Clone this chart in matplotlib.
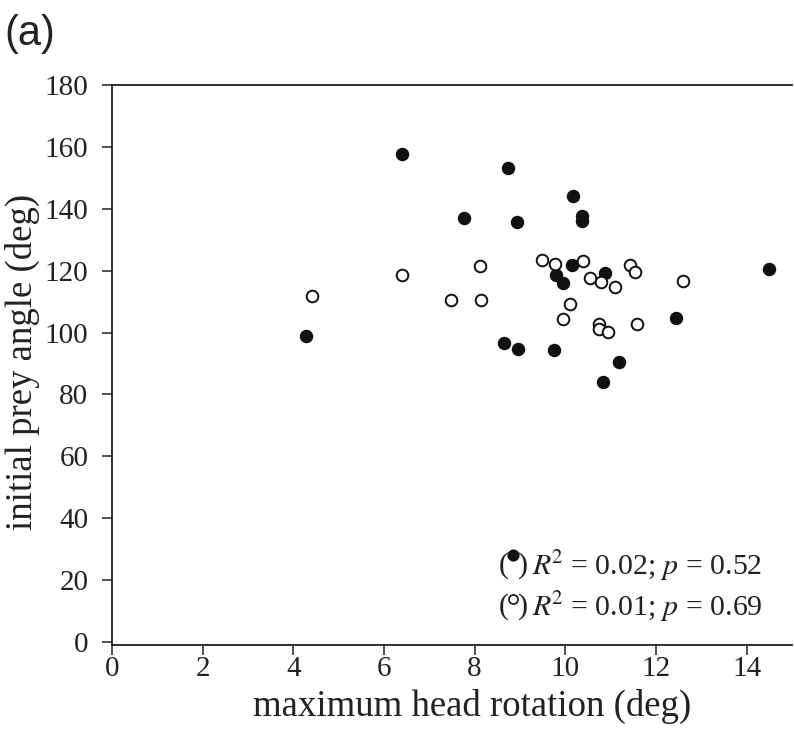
import matplotlib
matplotlib.use("Agg")
import matplotlib.pyplot as plt

plt.rcParams['font.family'] = ['Liberation Serif', 'DejaVu Serif']
plt.rcParams['mathtext.fontset'] = 'stix'

# filled circles
filled_x = [6.40, 8.73, 10.17, 7.77, 8.93, 10.37, 10.37, 10.14, 9.79, 9.95,
            10.88, 4.28, 8.64, 8.96, 9.76, 10.83, 11.18, 12.45, 14.49]
filled_y = [157.6, 153.3, 144.1, 137.1, 135.8, 137.6, 136.0, 121.8, 118.7, 116.1,
            119.2, 98.9, 96.5, 94.7, 94.4, 84.0, 90.4, 104.6, 120.5]
# open circles
open_x = [4.42, 6.40, 8.12, 7.48, 8.13, 9.48, 9.77, 10.39, 10.55, 10.79,
          11.09, 10.10, 9.95, 10.74, 10.74, 10.95, 11.43, 11.54, 12.60, 11.57]
open_y = [111.9, 118.7, 121.6, 110.4, 110.4, 123.5, 122.0, 123.1, 117.7, 116.2,
          114.6, 109.1, 104.4, 102.8, 101.1, 100.1, 121.9, 119.5, 116.5, 102.9]

x_ticks = [0, 2, 4, 6, 8, 10, 12, 14]
y_ticks = [0, 20, 40, 60, 80, 100, 120, 140, 160, 180]
stats_lines = [r"$R^{\!2}$ = 0.02; $p$ = 0.52", r"$R^{\!2}$ = 0.01; $p$ = 0.69"]

fig = plt.figure(figsize=(7.94, 7.30), dpi=100)
ax = fig.add_axes([112/794, 1-645/730, (792-112)/794, (645-85)/730])

ax.scatter(filled_x, filled_y, s=75, facecolor='#111111', edgecolor='#111111',
           linewidths=1.0, zorder=3, clip_on=False)
ax.scatter(open_x, open_y, s=70, facecolor='white', edgecolor='#111111',
           linewidths=1.4, zorder=3, clip_on=False)

ax.set_xlim(0, 15)
ax.set_ylim(-1, 180)
ax.set_xticks(x_ticks)
ax.set_yticks(y_ticks)
ax.tick_params(axis='both', direction='out', length=7, width=1.1, labelsize=21,
               color='#222222', labelcolor='#222222')
ax.tick_params(axis='y', pad=10)
ax.tick_params(axis='x', pad=1)
ax.spines['right'].set_visible(False)
for s in ['left', 'bottom', 'top']:
    ax.spines[s].set_linewidth(1.3)
    ax.spines[s].set_color('#222222')

ax.set_xlabel("maximum head rotation (deg)", fontsize=26.5, color='#222222')
ax.set_ylabel("initial prey angle (deg)", fontsize=26.5, color='#222222')
ax.xaxis.set_label_coords((472 - 112) / 680, -(706 - 645) / 560)
ax.yaxis.set_label_coords(-(112 - 22) / 680, (645 - 362) / 560)
ax.xaxis.label.set_va('center')
ax.yaxis.label.set_va('center')

# stats annotation
for i, (txt, fc) in enumerate(zip(stats_lines, ['#111111', 'white'])):
    yb = 1 - (575 + i * 41) / 730
    yp = 1 - (573 + i * 41) / 730
    fig.text(499/794, yp, "(", fontsize=21.5, color='#222222', va='baseline', ha='left')
    fig.text(518/794, yp, ")", fontsize=21.5, color='#222222', va='baseline', ha='left')
    fig.text(532/794, yb, txt, fontsize=21.5, color='#222222', va='baseline', ha='left')
    fig.add_artist(plt.Line2D([512.5/794], [1 - (555 + i * 44) / 730], marker='o',
                              markersize=7.5 if i == 0 else 6.5, markerfacecolor=fc,
                              markeredgecolor='#111111', markeredgewidth=1.2,
                              linestyle='none', transform=fig.transFigure))

fig.text(4/794, 1 - 45/730, "(a)", fontsize=30, family='Liberation Sans',
         color='#222222', va='baseline', ha='left')

fig.savefig("out.png", dpi=100)
